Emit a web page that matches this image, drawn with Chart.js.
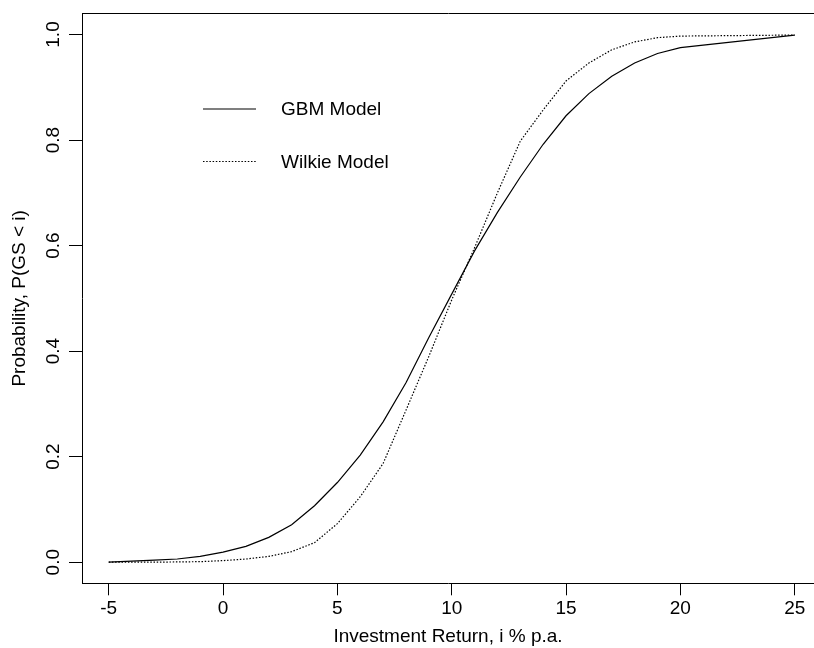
<!DOCTYPE html>
<html>
<head>
<meta charset="utf-8">
<script src="https://cdn.jsdelivr.net/npm/chart.js@4/dist/chart.umd.min.js"></script>
<style>
html,body{margin:0;padding:0;overflow:hidden;background:#fff;width:814px;height:648px;}
canvas{display:block;}
</style>
</head>
<body>
<canvas id="c" width="814" height="648"></canvas>
<script>
// ---- data ----
const returnsPct = [-5,-4,-3,-2,-1,0,1,2,3,4,5,6,7,8,9,10,11,12,13,14,15,16,17,18,19,20,25];
const gbmProb    = [0.000,0.002,0.004,0.006,0.011,0.019,0.030,0.047,0.071,0.107,0.151,0.203,0.266,0.340,0.426,0.508,0.590,0.663,0.730,0.792,0.846,0.888,0.921,0.946,0.964,0.975,0.999];
const wilkieProb = [0.000,0.000,0.000,0.0005,0.001,0.003,0.006,0.011,0.020,0.037,0.073,0.124,0.187,0.288,0.390,0.497,0.596,0.700,0.798,0.857,0.912,0.946,0.971,0.986,0.994,0.997,0.999];
const seriesNames = ["GBM Model", "Wilkie Model"];
const xTickValues = [-5,0,5,10,15,20,25];
const yTickValues = [0,0.2,0.4,0.6,0.8,1.0];
const xTitle = "Investment Return, i % p.a.";
const yTitle = "Probability, P(GS < i)";

const FONT = "'Liberation Sans', Arial, Helvetica, sans-serif";
const FS = 19;

const toPts = (ys) => returnsPct.map((x, i) => ({x: x, y: ys[i]}));

// top edge of the plot box (left and bottom come from the axis borders; the right edge lies outside the picture)
const boxPlugin = {
  id: 'box',
  afterDraw(chart) {
    const {ctx, chartArea: a} = chart;
    ctx.save();
    ctx.strokeStyle = '#000';
    ctx.lineWidth = 1;
    ctx.beginPath();
    ctx.moveTo(a.left, Math.round(a.top) + 0.5);
    ctx.lineTo(a.right + 2, Math.round(a.top) + 0.5);
    ctx.stroke();
    ctx.restore();
  }
};

const legendPlugin = {
  id: 'innerLegend',
  afterDraw(chart) {
    const {ctx} = chart;
    ctx.save();
    chart.data.datasets.forEach((ds, i) => {
      const yy = 109 + i * 52.5;
      ctx.beginPath();
      ctx.setLineDash(ds.borderDash || []);
      ctx.strokeStyle = ds.borderColor;
      ctx.lineWidth = ds.borderWidth;
      ctx.moveTo(203, yy);
      ctx.lineTo(256, yy);
      ctx.stroke();
      ctx.setLineDash([]);
      ctx.fillStyle = '#000';
      ctx.font = FS + 'px ' + FONT;
      ctx.textBaseline = 'middle';
      ctx.textAlign = 'left';
      ctx.fillText(ds.label, 281, yy + 1);
    });
    ctx.restore();
  }
};

new Chart(document.getElementById('c'), {
  type: 'line',
  data: {
    datasets: [
      {label: seriesNames[0], data: toPts(gbmProb), borderColor: '#000', borderWidth: 1.2, pointRadius: 0, tension: 0, fill: false},
      {label: seriesNames[1], data: toPts(wilkieProb), borderColor: '#000', borderWidth: 1.2, borderDash: [1.5, 1.7], pointRadius: 0, tension: 0, fill: false}
    ]
  },
  options: {
    responsive: false,
    animation: false,
    events: [],
    layout: {padding: {top: 13, right: 0, left: 0, bottom: 0}},
    plugins: {legend: {display: false}, tooltip: {enabled: false}},
    scales: {
      x: {
        type: 'linear',
        min: -6.168, max: 25.844,
        afterBuildTicks: (s) => { s.ticks = xTickValues.map(v => ({value: v})); },
        afterFit: (s) => { s.height = 64.7; },
        grid: {display: true, drawOnChartArea: false, drawTicks: true, tickLength: 12, color: '#000', lineWidth: 1},
        border: {display: true, color: '#000', width: 1},
        ticks: {color: '#000', font: {family: FONT, size: FS}, padding: 2, maxRotation: 0, autoSkip: false,
                callback: (v) => String(v)},
        title: {display: true, text: xTitle, color: '#000', font: {family: FONT, size: FS}, padding: {top: 0, bottom: 0}}
      },
      y: {
        type: 'linear',
        min: -0.04, max: 1.04,
        afterBuildTicks: (s) => { s.ticks = yTickValues.map(v => ({value: v})); },
        afterFit: (s) => { s.width = 82; },
        grid: {display: true, drawOnChartArea: false, drawTicks: true, tickLength: 13, color: '#000', lineWidth: 1},
        border: {display: true, color: '#000', width: 1},
        ticks: {color: '#000', font: {family: FONT, size: FS}, padding: 2, minRotation: 90, maxRotation: 90,
                crossAlign: 'center', autoSkip: false, callback: (v) => Number(v).toFixed(1)},
        title: {display: true, text: yTitle, color: '#000', font: {family: FONT, size: FS}, padding: {top: 8.6, bottom: 0}}
      }
    }
  },
  plugins: [boxPlugin, legendPlugin]
});
</script>
</body>
</html>
